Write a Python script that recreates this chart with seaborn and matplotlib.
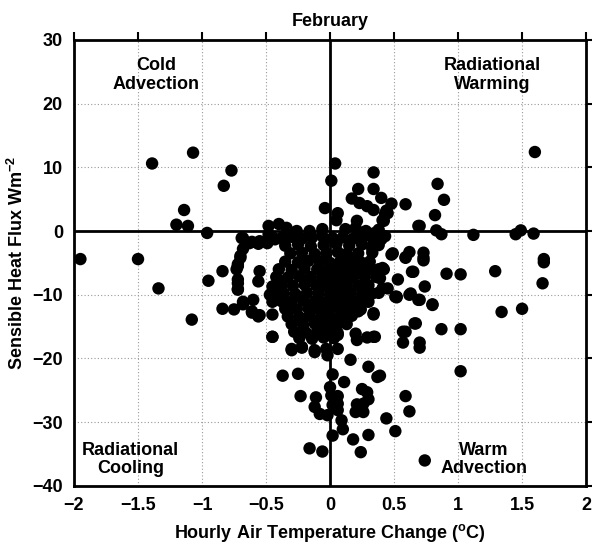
import numpy as np
import pandas as pd
import matplotlib.pyplot as plt
import seaborn as sns

# hourly air temperature change (deg C) and sensible heat flux (W m-2), February
# points, grouped roughly by region
temp_outer = [-1.95, -1.50, -1.39, -1.34, -1.07, -1.14, -1.20, -1.11, -0.96, -0.83,
              -0.77, -1.08, -0.95, -0.84, -0.84, -0.75, -0.72, -0.72, -0.72, -0.68,
              -0.70, -0.61, -0.55, -0.68, -0.60, -0.61, -0.55, -0.47, -0.45, -0.45,
              -0.45, -0.56, -0.55, -0.68, -0.69, -0.63, -0.56, -0.49, -0.43, -0.48,
              -0.70, -0.72, -0.73, -0.72, -0.72, -0.45, -0.41, -0.68, -0.61, -0.56]
flux_outer = [-4.4, -4.4, 10.6, -9.0, 12.3, 3.3, 1.0, 0.8, -0.3, 7.1,
              9.5, -13.9, -7.8, -6.3, -12.2, -12.3, -5.5, -8.2, -9.2, -11.1,
              -4.2, -12.8, -13.2, -1.1, -10.8, -1.7, -1.6, -10.0, -11.1, -13.1,
              -16.6, -7.9, -6.3, -11.5, -1.1, -1.9, -2.0, -1.9, -1.3, -0.5,
              -3.9, -5.2, -6.0, -7.6, -9.1, -8.7, -9.8, -2.8, -12.6, -13.4]

temp_upper = [0.04, 0.01, -0.04, 0.34, 0.22, 0.34, 0.17, 0.23, 0.29, 0.34,
              0.40, 0.48, 0.44, 0.41, 0.06, 0.05, 0.21, -0.48, -0.40, -0.34,
              -0.26, -0.16, -0.06, 0.12, 0.20, 0.28, 0.35, 0.43, 0.42, 0.69,
              1.60, 0.84, 0.89, 0.59, 0.45, 0.82, 0.70, 0.83, 0.87, 1.12,
              1.45, 1.49, 1.59, 0.43, 0.38]
flux_upper = [10.6, 7.9, 3.6, 9.2, 6.6, 6.6, 5.1, 4.4, 3.9, 3.3,
              5.2, 4.3, 3.2, 1.7, 2.8, 1.7, 1.6, 0.8, 1.1, 0.5,
              0.0, 0.0, 0.3, 0.3, 0.5, 0.0, -0.3, -0.8, 1.6, 0.8,
              12.4, 7.4, 4.9, 4.2, 2.8, 2.5, 0.8, 0.1, -0.5, -0.6,
              -0.5, 0.1, -0.4, 2.7, 0.2]

temp_right = [0.49, 0.59, 0.62, 0.73, 0.73, 1.67, 0.48, 0.59, 0.73, 0.41,
              0.53, 0.64, 0.74, 0.91, 1.02, 1.29, 1.67, 1.66, 0.41, 0.52,
              0.62, 0.70, 0.80, 1.34, 1.50, 0.67, 0.59, 0.57, 0.70, 0.87,
              1.02, 1.02, 0.39, 0.65, 0.42, 0.39, 0.52, 0.63, 0.33, 0.22,
              0.13, 0.27, 0.20, 0.51, 0.45, 0.38]
flux_right = [-3.5, -4.1, -3.3, -3.4, -4.2, -4.4, -3.7, -4.2, -4.6, -5.8,
              -7.6, -6.4, -8.7, -6.7, -6.8, -6.3, -4.9, -8.2, -9.0, -10.4,
              -10.0, -10.8, -11.6, -12.7, -12.2, -14.5, -15.8, -17.5, -18.3, -15.4,
              -15.4, -22.0, -22.7, -6.4, -6.0, -7.4, -10.3, -9.8, -2.8, -0.8,
              -3.7, -5.3, -5.5, -10.3, -9.0, -9.7]

temp_lower = [-0.37, -0.25, 0.02, 0.11, 0.37, -0.23, -0.11, 0.00, 0.01, 0.06,
              0.06, 0.02, -0.12, -0.08, -0.02, 0.06, 0.09, 0.10, 0.02, 0.21,
              0.20, 0.26, 0.25, 0.29, 0.30, 0.26, 0.44, 0.51, 0.59, 0.62,
              0.18, 0.30, 0.24, -0.16, -0.06, 0.74, -0.30, -0.22, -0.12, -0.02,
              0.06, 0.16, 0.30, 0.21, 0.34, 0.29, 0.34, 0.22, -0.45, -0.30,
              -0.22, -0.12, -0.03, 0.06, 0.20, 0.35, 0.30, 0.34, 0.69, 0.80,
              0.66, 0.57, 0.70]
flux_lower = [-22.7, -22.4, -22.5, -23.7, -22.9, -25.9, -26.1, -24.5, -25.8, -25.9,
              -27.1, -27.3, -27.6, -28.7, -28.9, -28.1, -29.7, -31.1, -32.1, -27.2,
              -28.4, -28.4, -24.8, -25.3, -26.4, -27.1, -29.4, -31.4, -25.9, -28.3,
              -32.7, -32.0, -34.7, -34.1, -34.6, -36.0, -18.5, -18.2, -18.7, -19.5,
              -18.5, -20.2, -21.3, -17.1, -16.6, -16.7, -13.1, -12.6, -16.6, -18.7,
              -18.3, -19.0, -18.5, -16.3, -16.1, -16.6, -11.1, -12.9, -10.8, -11.5,
              -14.5, -15.8, -17.5]

# dense cluster near the origin
temp_core = [-0.45, -0.38, -0.30, -0.22, -0.14, -0.06, 0.02, 0.10, 0.18, 0.26, 0.33, 0.40,
             -0.35, -0.25, -0.15, -0.05, 0.05, 0.15, 0.25, 0.33, 0.38,
             -0.31, -0.22, -0.12, -0.03, 0.06, 0.13, 0.22, 0.33,
             -0.35, -0.25, -0.17, -0.08, 0.00, 0.08, 0.16, 0.24, 0.31,
             -0.40, -0.30, -0.20, -0.10, -0.02, 0.06, 0.14, 0.22, 0.30, 0.38,
             -0.42, -0.33, -0.24, -0.15, -0.06, 0.02, 0.10, 0.18, 0.27, 0.36,
             -0.38, -0.29, -0.20, -0.11, -0.03, 0.05, 0.13, 0.22, 0.30,
             -0.36, -0.27, -0.18, -0.09, 0.00, 0.08, 0.16, 0.25, 0.33,
             -0.38, -0.30, -0.21, -0.12, -0.04, 0.04, 0.12, 0.20, 0.28,
             -0.35, -0.26, -0.17, -0.09, -0.01, 0.07, 0.15, 0.24,
             -0.33, -0.24, -0.16, -0.07, 0.01, 0.09, 0.17,
             -0.30, -0.21, -0.12, -0.04, 0.05, 0.13,
             -0.28, -0.19, -0.10, -0.02, 0.06,
             -0.24, -0.14, -0.05, 0.03]
flux_core = [-1.0, -1.1, -0.9, -1.2, -1.0, -0.8, -1.1, -1.0, -1.2, -0.9, -1.0, -1.3,
             -2.3, -2.1, -2.4, -2.2, -2.0, -2.3, -2.1, -2.4, -2.2,
             -3.5, -3.4, -3.6, -3.5, -3.3, -3.6, -3.5, -3.4,
             -4.8, -4.9, -4.7, -4.8, -5.0, -4.8, -4.7, -4.9, -4.8,
             -6.0, -6.1, -5.9, -6.0, -6.2, -6.0, -5.9, -6.1, -6.0, -6.0,
             -7.2, -7.3, -7.1, -7.2, -7.4, -7.2, -7.1, -7.3, -7.2, -7.2,
             -8.5, -8.6, -8.4, -8.5, -8.7, -8.5, -8.4, -8.6, -8.5,
             -9.8, -9.9, -9.7, -9.8, -10.0, -9.8, -9.7, -9.9, -9.8,
             -11.0, -11.1, -10.9, -11.0, -11.2, -11.0, -10.9, -11.1, -11.0,
             -12.2, -12.3, -12.1, -12.2, -12.4, -12.2, -12.1, -12.3,
             -13.4, -13.5, -13.3, -13.4, -13.6, -13.4, -13.3,
             -14.6, -14.7, -14.5, -14.6, -14.8, -14.6,
             -15.8, -15.9, -15.7, -15.8, -16.0,
             -16.8, -16.9, -16.7, -16.8]

x_ticks = [-2, -1.5, -1, -0.5, 0, 0.5, 1, 1.5, 2]
x_ticklabels = ['\u22122', '\u22121.5', '\u22121', '\u22120.5', '0', '0.5', '1', '1.5', '2']
y_ticks = [-40, -30, -20, -10, 0, 10, 20, 30]
y_ticklabels = ['\u221240', '\u221230', '\u221220', '\u221210', '0', '10', '20', '30']

quadrant_labels = ['Cold\nAdvection', 'Radiational\nWarming', 'Radiational\nCooling', 'Warm\nAdvection']
quadrant_x = [-1.36, 1.27, -1.56, 1.20]
quadrant_y = [24.5, 24.5, -35.8, -35.8]

df = pd.DataFrame({
    'temp': temp_outer + temp_upper + temp_right + temp_lower + temp_core,
    'flux': flux_outer + flux_upper + flux_right + flux_lower + flux_core,
})

sns.set_style('white')
plt.rcParams['font.family'] = ['Liberation Sans', 'DejaVu Sans']
plt.rcParams['font.weight'] = 'bold'
plt.rcParams['text.color'] = 'black'
plt.rcParams['axes.labelcolor'] = 'black'
plt.rcParams['xtick.color'] = 'black'
plt.rcParams['ytick.color'] = 'black'
plt.rcParams['mathtext.default'] = 'regular'

fig = plt.figure(figsize=(5.92, 5.46), dpi=100)
ax = fig.add_axes([0.125, 0.110, 0.865, 0.817])

ax.grid(True, color='#999999', linestyle=(0, (1, 2)), linewidth=0.8)
ax.axhline(0, color='black', linewidth=2, zorder=1)
ax.axvline(0, color='black', linewidth=2, zorder=1)

sns.scatterplot(data=df, x='temp', y='flux', ax=ax, color='black', s=80,
                edgecolor='none', linewidth=0, zorder=3, legend=False)

ax.set_xlim(-2, 2)
ax.set_ylim(-40, 30)
ax.set_xticks(x_ticks)
ax.set_xticklabels(x_ticklabels, fontsize=13, fontweight='bold')
ax.set_yticks(y_ticks)
ax.set_yticklabels(y_ticklabels, fontsize=13, fontweight='bold')
ax.tick_params(direction='out', length=6, width=1.5, top=True, right=True,
               labeltop=False, labelright=False, pad=2)
for sp in ax.spines.values():
    sp.set_linewidth(2)
    sp.set_color('black')

ax.set_xlabel('Hourly Air Temperature Change ($^{o}$C)', fontsize=13, fontweight='bold', labelpad=6)
ax.set_ylabel('Sensible Heat Flux Wm$^{-2}$', fontsize=13, fontweight='bold', labelpad=4)
ax.set_title('February', fontsize=13, fontweight='bold', pad=10)

for lab, qx, qy in zip(quadrant_labels, quadrant_x, quadrant_y):
    ax.text(qx, qy, lab, ha='center', va='center', fontsize=13, fontweight='bold',
            linespacing=1.1, zorder=4)

fig.savefig('out.png', dpi=100)
